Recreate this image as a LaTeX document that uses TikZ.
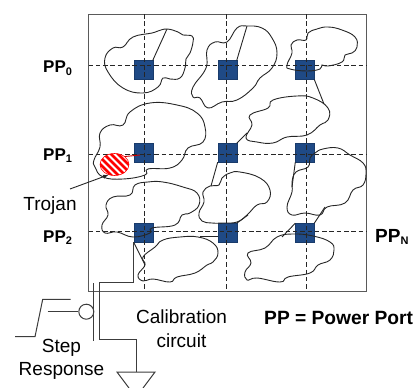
\documentclass[tikz,border=0pt]{standalone}
\usepackage{fontspec}
\setmainfont{Liberation Sans}
\usetikzlibrary{arrows, shapes, positioning}
\definecolor{portblue}{HTML}{1F4A86}
\definecolor{framegray}{HTML}{5A5A5A}
\definecolor{wiregray}{HTML}{3C3C3C}
\newcommand{\ppsub}[1]{\raisebox{-2.5pt}{\fontsize{11}{11}\selectfont #1}}
\tikzset{
    port/.style={draw=portblue!80!black, fill=portblue, line width=0.4pt, minimum size=19pt, inner sep=0pt, outer sep=0pt},
    griddash/.style={dashed, dash pattern=on 4.5pt off 2.8pt, line width=0.9pt, black!85},
    cloudline/.style={line width=0.9pt, black!85},
    wire/.style={line width=1pt, wiregray},
    ppbold/.style={inner sep=0pt, anchor=base west, font=\bfseries\fontsize{17}{18}\selectfont},
    labeltext/.style={inner sep=0pt, anchor=base, font=\fontsize{19}{22}\selectfont}
}
\begin{document}
\begin{tikzpicture}[x=1pt, y=-1pt]
    \useasboundingbox (0,0) rectangle (418,388);
    \node[draw=framegray, line width=1pt, minimum width=278pt, minimum height=277pt, inner sep=0pt, outer sep=0pt] (frame) at (227.5,152.5) {};

    \node[port] (pp00) at (143.2,70) {};
    \node[port, right of=pp00, node distance=84pt] (pp01) {};
    \node[port, right of=pp01, node distance=77.6pt] (pp02) {};
    \node[port, below of=pp00, node distance=82.7pt] (pp10) {};
    \node[port, right of=pp10, node distance=84pt] (pp11) {};
    \node[port, right of=pp11, node distance=77.6pt] (pp12) {};
    \node[port, below of=pp10, node distance=80pt] (pp20) {};
    \node[port, right of=pp20, node distance=84pt] (pp21) {};
    \node[port, right of=pp21, node distance=77.6pt] (pp22) {};

    \coordinate (row0) at (88.5,65.5);
    \coordinate (row1) at (88.5,154.5);
    \coordinate (row2) at (88.5,231.7);
    \coordinate (col0) at (144.3,14);
    \coordinate (col1) at (226.3,14);
    \coordinate (col2) at (306,14);
    \draw[griddash] (row0) -- (row0 -| frame.east);
    \draw[griddash] (row1) -- (row1 -| frame.east);
    \draw[griddash] (row2) -- (row2 -| frame.east);
    \draw[griddash] (col0) -- (col0 |- frame.south);
    \draw[griddash] (col1) -- (col1 |- frame.south);
    \draw[griddash] (col2) -- (col2 |- frame.south);

    % clouds, row by row
    \draw[cloudline] plot[smooth cycle, tension=0.75] coordinates {(167,29) (178,32) (183,35) (192,36) (193,42) (190,53) (186,59) (185,68) (180,78) (170,79) (163,78) (158,87) (143,93) (123,88) (108,72) (105,58) (113,48) (123,47) (133,37) (152,33) (158,31)};
    \draw[cloudline] plot[smooth cycle, tension=0.75] coordinates {(247,26) (262,28) (272,38) (277,53) (272,68) (260,78) (253,88) (237,100) (222,102) (208,108) (200,98) (193,97) (193,87) (206,68) (207,50) (215,42) (227,42) (237,28)};
    \draw[cloudline] plot[smooth cycle, tension=0.75] coordinates {(328,27) (342,30) (355,37) (357,47) (352,53) (345,55) (342,62) (328,66) (322,65) (320,69) (307,71) (290,69) (287,65) (292,53) (291,45) (297,40) (306,40) (308,33) (317,29)};
    \draw[cloudline] plot[smooth cycle, tension=0.75] coordinates {(150,103) (177,105) (197,113) (205,127) (203,142) (188,148) (182,160) (170,168) (148,169) (145,175) (123,179) (103,177) (95,167) (94,160) (100,147) (100,133) (110,125) (123,125) (130,112)};
    \draw[cloudline] plot[smooth cycle, tension=0.75] coordinates {(273,100) (297,96) (313,98) (328,108) (328,120) (320,125) (307,135) (287,137) (273,143) (257,142) (246,138) (252,125) (250,115) (268,108)};
    \draw[cloudline] plot[smooth cycle, tension=0.75] coordinates {(240,172) (260,178) (270,190) (267,202) (257,205) (247,215) (237,222) (223,223) (212,223) (202,221) (199,213) (204,202) (203,192) (210,186) (219,185) (222,178) (230,173)};
    \draw[cloudline] plot[smooth cycle, tension=0.75] coordinates {(315,153) (323,149) (338,148) (350,155) (363,163) (366,173) (363,185) (353,190) (345,203) (327,207) (320,215) (305,213) (292,215) (287,207) (292,192) (292,182) (296,172) (308,167) (310,158)};
    \draw[cloudline] plot[smooth cycle, tension=0.75] coordinates {(163,182) (183,187) (197,193) (199,205) (190,213) (182,215) (175,225) (152,228) (150,233) (133,237) (117,232) (105,233) (102,225) (108,215) (106,205) (113,197) (130,195) (135,185) (148,182)};
    \draw[cloudline] plot[smooth cycle, tension=0.75] coordinates {(180,237) (198,237) (213,243) (218,253) (213,262) (207,265) (195,273) (177,277) (170,282) (153,279) (143,281) (138,275) (145,265) (143,257) (155,247) (163,240)};
    \draw[cloudline] plot[smooth cycle, tension=0.75] coordinates {(293,234) (313,236) (330,242) (334,250) (330,260) (318,265) (310,273) (288,277) (280,282) (257,278) (247,280) (245,272) (251,263) (248,253) (265,248) (277,237)};

    % port to cloud
    \coordinate (tap00) at (167,29);
    \coordinate (tap01) at (247,26);
    \coordinate (tap02) at (324,104);
    \coordinate (tap11a) at (247,133);
    \coordinate (tap11b) at (211,186);
    \coordinate (tap12) at (292,187);
    \coordinate (tap20) at (145,265);
    \coordinate (tap21a) at (248,215);
    \coordinate (tap21b) at (200,236.7);
    \coordinate (tap22a) at (325,207);
    \coordinate (tap22b) at (282,237);
    \draw[cloudline] (pp00.north east) -- (tap00);
    \draw[cloudline] (pp01.north east) -- (tap01);
    \draw[cloudline] (pp02.south east) -- (tap02);
    \draw[cloudline] (pp11.north east) -- (tap11a);
    \draw[cloudline] (pp11.south west) -- (tap11b);
    \draw[cloudline] (pp12.south west) -- (tap12);
    \draw[cloudline] (pp20.south west) -- (tap20);
    \draw[cloudline] (pp21.north east) -- (tap21a);
    \draw[cloudline] (tap21b) -- (tap21b -| pp21.west);
    \draw[cloudline] (pp22.north east) -- (tap22a);
    \draw[cloudline] (pp22.north west) -- (tap22b);

    % trojan
    \node[ellipse, draw=red, line width=0.6pt, minimum width=29pt, minimum height=22pt, inner sep=0pt, fill=white,
        path picture={\foreach \k in {-28,-21,...,28} \draw[red, line width=2.6pt] (path picture bounding box.center) ++(\k pt-20pt,20pt) -- ++(40pt,-40pt);}] (trojan) at (114.5,164.5) {};
    \coordinate (trojanend) at (140,155);
    \draw[red!80!black, line width=0.9pt] (trojan.north east) -- (trojanend);
    \node[labeltext] (trojantxt) at (50,210) {Trojan};
    \coordinate (trojanfoot) at (70,189);
    \draw[-latex, line width=0.9pt, black!85] (trojanfoot) -- (trojan.240);

    % calibration path
    \coordinate (draintop) at (99,282.5);
    \coordinate (sourcebot) at (99,339);
    \coordinate (gnd) at (136,372);
    \draw[wire] (pp20.south west) |- (draintop) -- (sourcebot) -| (gnd);
    \coordinate (bartop) at (93.5,283);
    \coordinate (barbot) at (93.5,341);
    \draw[wire] (bartop) -- (barbot);
    \node[circle, draw=wiregray, line width=1pt, minimum size=15pt, inner sep=0pt] (gate) at (86.3,311.7) {};
    \coordinate (gatein) at (47.5,311.7);
    \draw[wire] (gatein) -- (gate);
    \coordinate (stepa) at (15,336.7);
    \coordinate (stepb) at (35,336.7);
    \coordinate (stepc) at (42.7,299.3);
    \coordinate (stepd) at (70.7,299.3);
    \draw[wire] (stepa) -- (stepb) -- (stepc) -- (stepd);
    \coordinate (gndl) at (117,372);
    \coordinate (gndr) at (155,372);
    \coordinate (gndlo) at (129,388);
    \coordinate (gndro) at (143,388);
    \draw[wire] (gndlo) -- (gndl) -- (gndr) -- (gndro);

    % labels
    \node[ppbold] (lab0) at (43,72.7) {PP\ppsub{0}};
    \node[ppbold] (lab1) at (43,160) {PP\ppsub{1}};
    \node[ppbold] (lab2) at (43,242) {PP\ppsub{2}};
    \node[ppbold, font=\bfseries\fontsize{19}{22}\selectfont] (labn) at (375,242.3) {PP\ppsub{N}};
    \node[ppbold, font=\bfseries\fontsize{19.2}{22}\selectfont] (legend) at (264,324) {PP = Power Port};
    \node[labeltext] (calib) at (181.5,323) {Calibration};
    \node[labeltext] (circ) at (181.5,347) {circuit};
    \node[labeltext] (steptxt) at (61.5,352) {Step};
    \node[labeltext] (resptxt) at (61.5,375) {Response};
\end{tikzpicture}
\end{document}
